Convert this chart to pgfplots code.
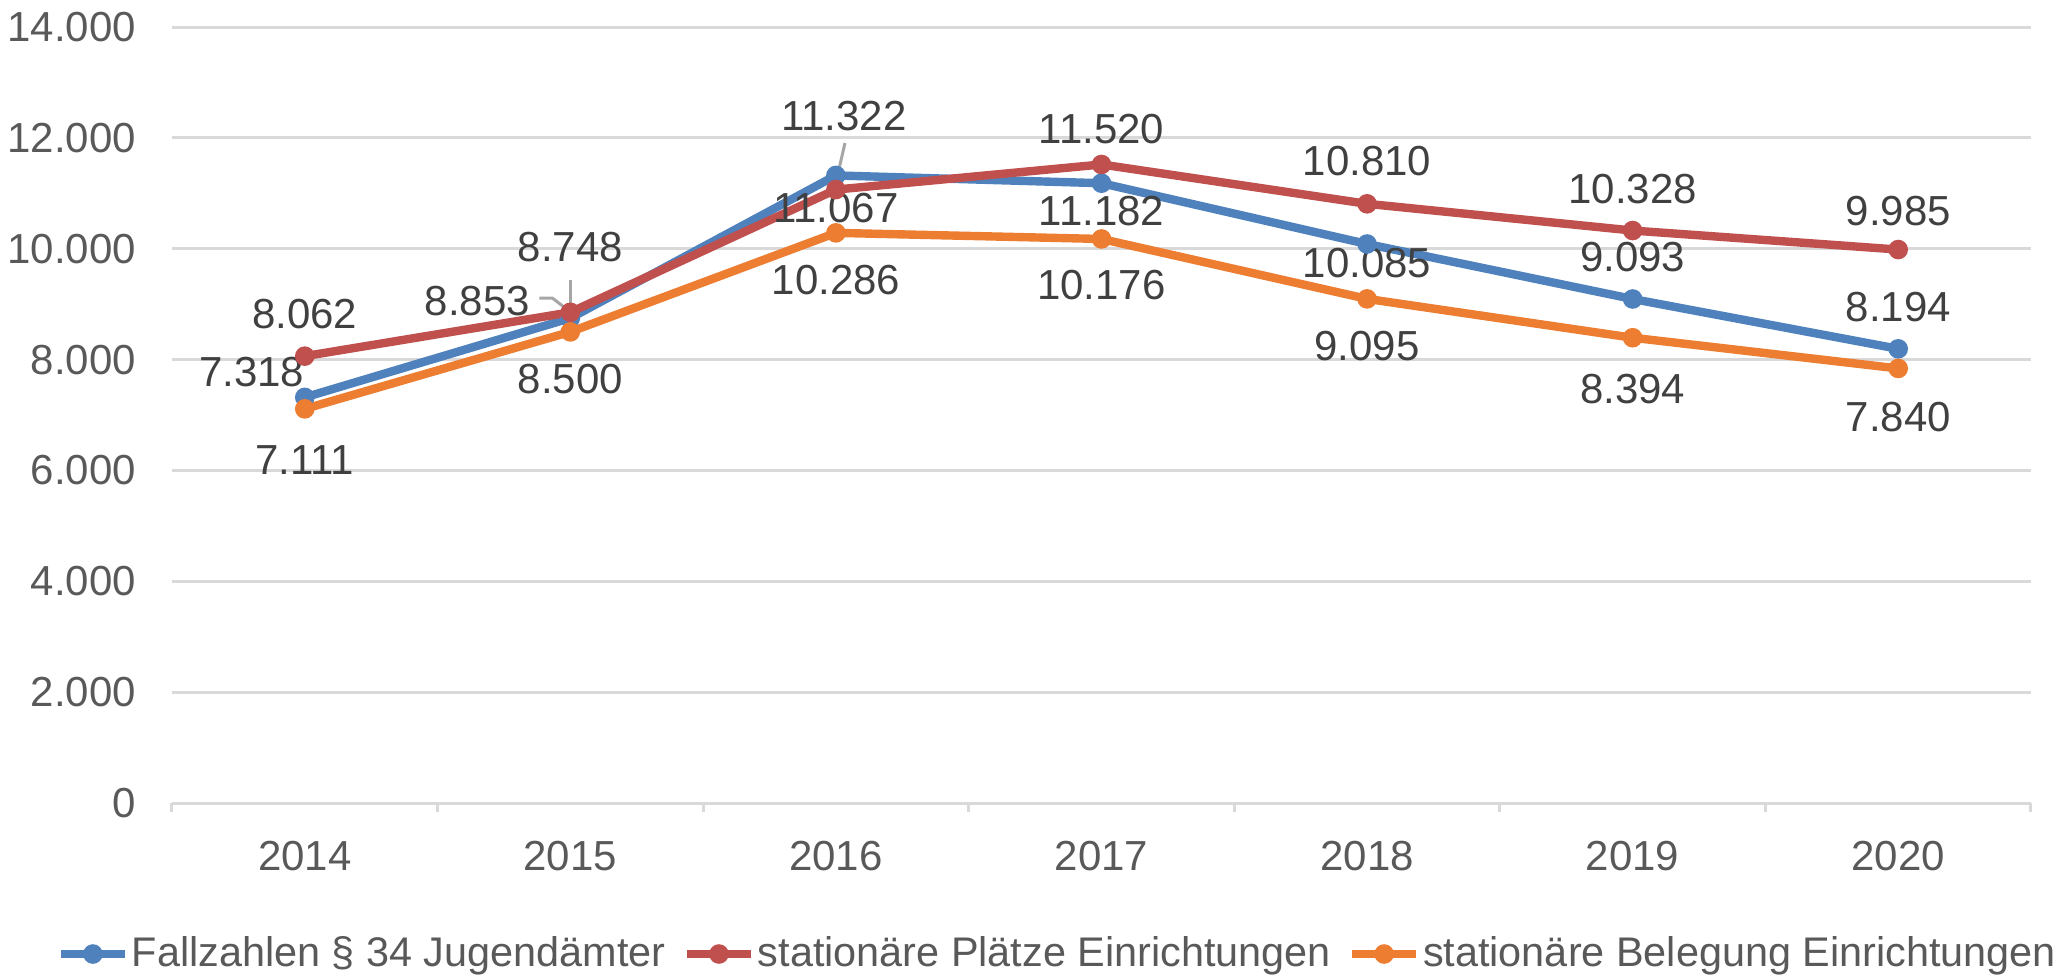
\documentclass[border=0pt]{standalone}
\usepackage{pgfplots}
\pgfplotsset{compat=1.18}
\usepackage{fontspec}
\setmainfont{Liberation Sans}
\definecolor{cblue}{HTML}{4F81BD}
\definecolor{cred}{HTML}{C0504D}
\definecolor{corange}{HTML}{ED7D31}
\definecolor{gridc}{HTML}{D9D9D9}
\definecolor{tickc}{HTML}{595959}
\definecolor{labc}{HTML}{404040}
\definecolor{leadc}{HTML}{A6A6A6}
\begin{document}
\begin{tikzpicture}[font=\fontsize{10.5}{12.6}\selectfont]
\useasboundingbox (-43pt,-43.5pt) rectangle (474.25pt,200.75pt);
\begin{axis}[
  at={(0pt,0pt)}, anchor=south west,
  scale only axis, width=464.75pt, height=194pt,
  xmin=-0.5, xmax=6.5, ymin=0, ymax=14000,
  axis x line*=bottom, axis y line*=left,
  y axis line style={draw=none},
  x axis line style={gridc, line width=0.75pt},
  xtick={0,...,6},
  xticklabels={2014,2015,2016,2017,2018,2019,2020},
  minor xtick={-0.5,0.5,...,6.5},
  major tick length=0pt, minor tick length=2.25pt,
  tick align=outside,
  tick style={gridc, line width=0.75pt},
  ytick={0,2000,...,14000},
  ymajorgrids, grid style={gridc, line width=0.75pt},
  scaled y ticks=false,
  yticklabel style={tickc, xshift=-5.5pt},
  xticklabel style={tickc, yshift=-6pt},
  /pgf/number format/.cd, 1000 sep={.}, assume math mode=true,
  /pgfplots/.cd,
  legend image code/.code={\draw[mark repeat=2,mark phase=2] plot coordinates {(0cm,0cm)(0.28cm,0cm)(0.56cm,0cm)};},
  legend style={at={(0.4765,-0.1946)}, anchor=center, draw=none, fill=none,
    legend columns=-1, text=tickc, nodes={inner xsep=0.7pt},
    font=\fontsize{10.35}{12.4}\selectfont,
    /tikz/every even column/.append style={column sep=3.6pt}},
  legend cell align=left,
  every axis plot/.append style={line width=2.1pt, mark=*, mark size=2.2pt},
]
\addplot[cblue, mark options={solid, fill=cblue, draw=cblue, line width=0.5pt}] coordinates {(0,7318)(1,8748)(2,11322)(3,11182)(4,10085)(5,9093)(6,8194)};
\addlegendentry{Fallzahlen § 34 Jugendämter}
\addplot[cred, mark options={solid, fill=cred, draw=cred, line width=0.5pt}] coordinates {(0,8062)(1,8853)(2,11067)(3,11520)(4,10810)(5,10328)(6,9985)};
\addlegendentry{stationäre Plätze Einrichtungen}
\addplot[corange, mark options={solid, fill=corange, draw=corange, line width=0.5pt}] coordinates {(0,7111)(1,8500)(2,10286)(3,10176)(4,9095)(5,8394)(6,7840)};
\addlegendentry{stationäre Belegung Einrichtungen}
% leader lines
\draw[leadc, line width=0.75pt] (axis cs:1,9435) -- (axis cs:1,8790);
\draw[leadc, line width=0.75pt] (axis cs:0.883,9110) -- (axis cs:0.932,9110) -- (axis cs:1.0,8860);
\draw[leadc, line width=0.75pt] (axis cs:2.034,11906) -- (axis cs:2.008,11360);
% data labels
\begin{scope}[every node/.style={labc, inner sep=0pt}]
\node at (axis cs:0,8822) {8.062};
\node at (axis cs:-0.2,7775) {7.318};
\node at (axis cs:0,6188) {7.111};
\node at (axis cs:1,10030) {8.748};
\node at (axis cs:0.65,9056) {8.853};
\node at (axis cs:1,7649) {8.500};
\node at (axis cs:2.03,12393) {11.322};
\node at (axis cs:2,10734) {11.067};
\node at (axis cs:2,9435) {10.286};
\node at (axis cs:3,12159) {11.520};
\node at (axis cs:3,10680) {11.182};
\node at (axis cs:3,9345) {10.176};
\node at (axis cs:4,11582) {10.810};
\node at (axis cs:4,9742) {10.085};
\node at (axis cs:4,8244) {9.095};
\node at (axis cs:5,11077) {10.328};
\node at (axis cs:5,9850) {9.093};
\node at (axis cs:5,7469) {8.394};
\node at (axis cs:6,10680) {9.985};
\node at (axis cs:6,8948) {8.194};
\node at (axis cs:6,6963) {7.840};
\end{scope}
\end{axis}
\end{tikzpicture}
\end{document}
